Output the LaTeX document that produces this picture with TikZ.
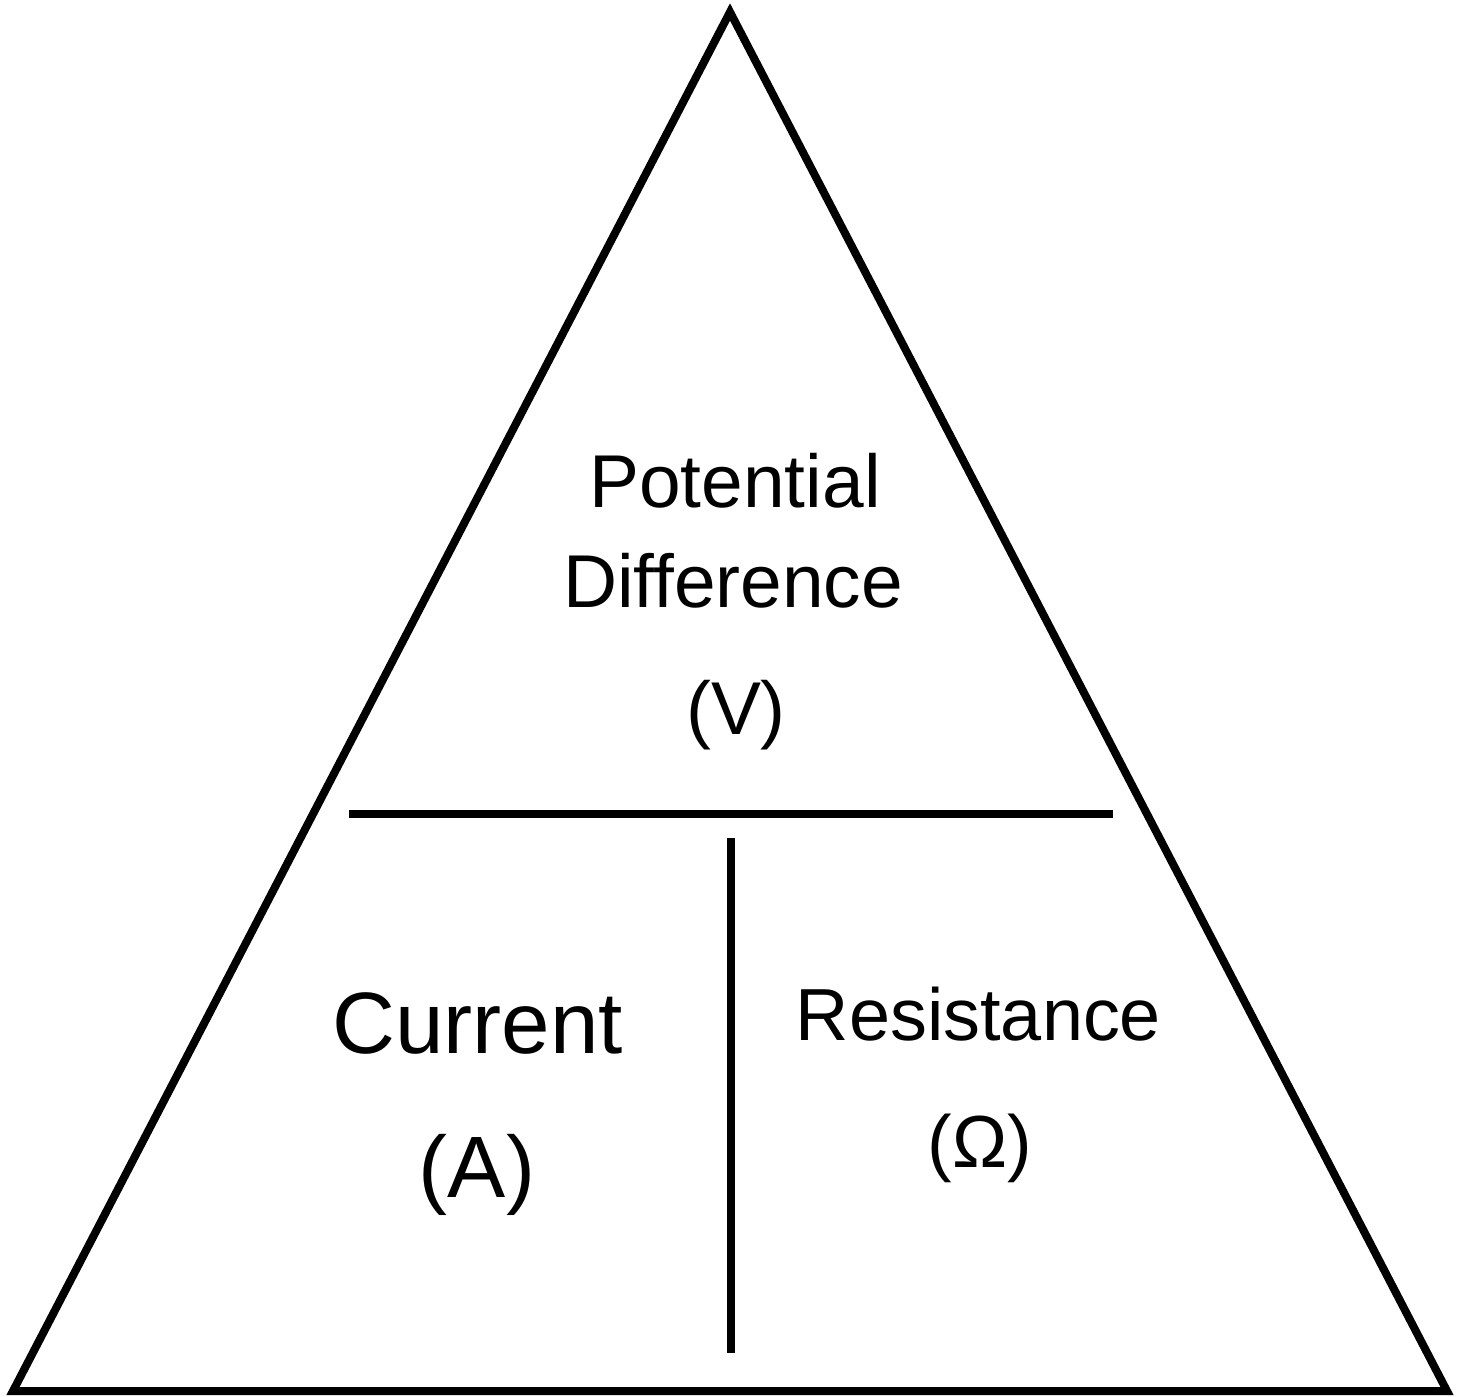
\documentclass[tikz,border=0pt]{standalone}
\usepackage{fontspec}
\setmainfont{Liberation Sans}

\begin{document}
\begin{tikzpicture}[
        edge/.style={line width=0.08cm, black},
        word/.style={anchor=base, inner sep=0pt, font=\fontsize{21.3}{25}\selectfont},
        bigword/.style={anchor=base, inner sep=0pt, font=\fontsize{24.8}{30}\selectfont}
    ]
        \useasboundingbox (0, 0) rectangle (14.69, 13.96);

        % triangle
        \coordinate (apex) at (7.30, 13.84);
        \coordinate (left) at (0.13, 0.05);
        \coordinate (right) at (14.47, 0.05);
        \draw[edge, miter limit=20] (apex) -- (left) -- (right) -- cycle;

        % dividers
        \coordinate (hl) at (3.49, 5.82);
        \coordinate (hr) at (11.13, 5.82);
        \coordinate (vt) at (7.31, 5.58);
        \coordinate (vb) at (7.31, 0.43);
        \draw[edge] (hl) -- (hr);
        \draw[edge] (vt) -- (vb);

        % top part
        \node[word] (potential) at (7.35, 8.88) {Potential};
        \node[word] (difference) at (7.33, 7.89) {Difference};
        \node[word] (volts) at (7.36, 6.62) {(V)};

        % bottom left
        \node[bigword] (current) at (4.775, 3.43) {Current};
        \node[bigword] (amps) at (4.77, 1.99) {(A)};

        % bottom right
        \node[word, font=\fontsize{21}{25}\selectfont] (resistance) at (9.785, 3.56) {Resistance};
        \node[word, font=\fontsize{21}{25}\selectfont] (ohms) at (9.80, 2.29) {(Ω)};
    \end{tikzpicture}
\end{document}
